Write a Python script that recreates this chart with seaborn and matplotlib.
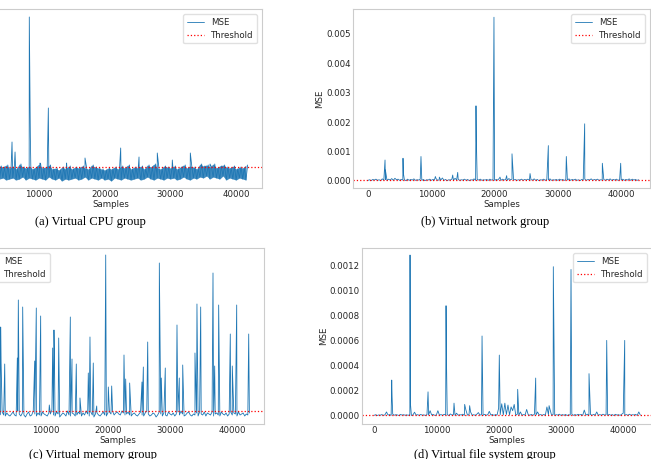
import numpy as np
import matplotlib
matplotlib.use("Agg")
import matplotlib.pyplot as plt
import seaborn as sns

# ---------------- data ----------------
# (a) Virtual CPU group : base samples every 250 samples, units of 1e-4
cpu_step = 250
cpu_unit = 1e-4
cpu_base = [9, 20, 8, 21, 10, 19, 8, 22, 9, 18, 7, 21, 11, 20, 8, 19, 9, 22, 10, 21,
            8, 23, 9, 20, 10, 22, 8, 19, 9, 24, 11, 21, 8, 20, 10, 22, 9, 19, 8, 21,
            10, 24, 9, 20, 8, 21, 11, 23, 9, 19, 8, 20, 10, 18, 7, 21, 9, 19, 8, 22,
            9, 19, 10, 21, 8, 20, 9, 22, 11, 20, 8, 19, 10, 23, 9, 21, 8, 20, 10, 19,
            8, 18, 9, 20, 7, 19, 10, 21, 9, 19, 8, 22, 10, 20, 9, 23, 8, 19, 9, 21,
            10, 20, 8, 22, 9, 19, 11, 23, 9, 21, 8, 24, 10, 20, 9, 19, 8, 22, 10, 21,
            9, 20, 10, 22, 8, 19, 9, 21, 11, 23, 9, 20, 8, 22, 10, 21, 9, 19, 11, 24,
            10, 22, 12, 23, 9, 21, 11, 24, 10, 20, 9, 22, 12, 23, 8, 21, 10, 20, 9, 22,
            8, 19, 10, 21, 9, 20, 8, 23]
cpu_spike_pos = [5890, 6350, 8520, 8680, 10150, 11420, 14200, 17000, 22430,
                 25220, 28000, 30290, 33030, 36030]
cpu_spike_val = [46, 36, 171, 51, 25, 80, 25, 30, 40, 31, 35, 28, 35, 24]
cpu_threshold = 0.00207

# (b) Virtual network group : base every 250 samples, units of 1e-5
net_step = 250
net_unit = 1e-5
net_base = [2, 4, 1, 5, 3, 6, 2, 4, 1, 7, 3, 5, 2, 6, 3, 8, 2, 9, 4, 6,
            2, 5, 3, 4, 1, 6, 2, 5, 3, 7, 2, 4, 3, 6, 2, 5, 1, 4, 3, 6,
            2, 5, 3, 8, 2, 4, 3, 10, 2, 5, 1, 4, 3, 6, 2, 9, 3, 5, 2, 4,
            3, 6, 2, 5, 1, 4, 3, 7, 2, 5, 3, 6, 2, 4, 3, 5, 2, 6, 3, 4,
            2, 5, 3, 9, 2, 6, 3, 5, 2, 8, 4, 6, 3, 5, 2, 4, 3, 6, 2, 5,
            3, 6, 2, 4, 3, 7, 2, 5, 1, 4, 3, 6, 2, 5, 3, 7, 2, 4, 3, 5,
            2, 6, 3, 5, 2, 4, 3, 7, 2, 5, 3, 6, 2, 4, 1, 5, 3, 6, 2, 5,
            3, 7, 2, 5, 3, 6, 2, 4, 3, 5, 2, 6, 3, 7, 2, 5, 3, 6, 2, 4,
            3, 6, 2, 5, 3, 7, 2, 6, 3, 5, 2, 4]
net_spike_pos = [2690, 2750, 5530, 5590, 8370, 8430, 10640, 11270, 13380, 14170,
                 17060, 17120, 19900, 20850, 21900, 22750, 25600, 28490, 31330,
                 34230, 37020, 39920]
net_spike_val = [71, 37, 77, 26, 83, 43, 15, 13, 20, 29,
                 255, 137, 556, 13, 18, 92, 25, 120, 83,
                 194, 60, 60]
net_threshold = 0.00002

# (c) Virtual memory group : base every 250 samples, units of 1e-4
mem_step = 250
mem_unit = 1e-4
mem_base = [10, 8, 11, 9, 8, 12, 10, 7, 9, 11, 8, 10, 12, 9, 8, 11, 9, 8, 10, 12,
            9, 8, 13, 10, 8, 11, 9, 7, 10, 12, 8, 9, 13, 10, 8, 11, 9, 8, 12, 10,
            9, 8, 11, 10, 14, 9, 8, 12, 10, 7, 9, 11, 10, 8, 13, 9, 8, 11, 10, 8,
            9, 12, 10, 8, 11, 9, 13, 10, 8, 12, 9, 7, 10, 11, 9, 8, 10, 12, 9, 8,
            11, 12, 10, 13, 9, 11, 12, 10, 9, 13, 11, 9, 10, 12, 9, 8, 10, 11, 9, 8,
            10, 12, 9, 8, 11, 13, 10, 8, 9, 11, 10, 7, 9, 12, 10, 8, 11, 9, 8, 12,
            10, 9, 11, 8, 10, 12, 9, 13, 10, 8, 9, 11, 12, 9, 8, 10, 9, 11, 8, 12,
            10, 9, 12, 8, 11, 10, 9, 12, 8, 10, 11, 9, 8, 12, 10, 9, 11, 8, 10, 12,
            9, 11, 10, 8, 12, 9, 10, 11, 8, 10, 9, 11]
mem_spike_pos = [2760, 2820, 3410, 5440, 5600, 6300, 8230, 8490, 9190, 10580,
                 11120, 11330, 11400, 12090, 13960, 14230, 14920, 15510, 16850,
                 17120, 17650, 18200, 19650, 20070, 20610, 22590, 22860, 23500,
                 25480, 25700, 26400, 28270, 28590, 29230, 31110, 31480, 32030,
                 34000, 34320, 34920, 36900, 37170, 37810, 39680, 40000, 40710,
                 42640]
mem_spike_val = [97, 62, 60, 66, 124, 117, 63, 116, 108, 19,
                 76, 94, 70, 86, 107, 65, 60, 26, 51,
                 87, 61, 18, 169, 37, 38, 69, 45, 41,
                 42, 57, 82, 161, 46, 56, 99, 46, 59,
                 71, 120, 117, 151, 58, 119, 90, 58, 119,
                 90]
mem_threshold = 0.00133

# (d) Virtual file system group : base every 250 samples, units of 1e-6
fs_step = 250
fs_unit = 1e-6
fs_base = [3, 8, 2, 6, 4, 9, 3, 7, 30, 5, 9, 3, 12, 4, 8, 6, 2, 10, 5, 8,
           4, 7, 3, 9, 2, 6, 28, 5, 8, 3, 10, 4, 7, 2, 9, 5, 40, 6, 10, 3,
           5, 40, 4, 9, 3, 11, 6, 8, 2, 14, 5, 9, 3, 20, 4, 8, 6, 12, 3, 45,
           5, 9, 30, 4, 8, 3, 12, 25, 5, 9, 3, 11, 4, 8, 35, 6, 10, 3, 9, 5,
           60, 8, 95, 6, 100, 10, 85, 7, 70, 40, 90, 5, 12, 3, 30, 4, 9, 6, 50, 8,
           4, 10, 3, 12, 5, 30, 6, 9, 3, 10, 4, 70, 8, 50, 4, 10, 3, 8, 5, 12,
           3, 9, 4, 10, 2, 8, 5, 12, 3, 9, 4, 11, 6, 10, 3, 45, 5, 12, 3, 9,
           4, 10, 5, 30, 3, 9, 4, 12, 5, 8, 3, 10, 4, 9, 2, 11, 5, 8, 3, 12,
           20, 5, 9, 3, 12, 4, 8, 6, 10, 3, 30, 5]
fs_spike_pos = [2840, 2900, 5780, 5840, 8670, 8730, 11560, 11620, 12840, 14550,
                15350, 17340, 20110, 23060, 25950, 28100, 28780, 31620, 34510,
                37350, 40240]
fs_spike_val = [284, 150, 1280, 100, 190, 80, 876, 475, 100, 90,
                80, 635, 483, 210, 300, 80, 1187, 1165, 335,
                600, 600]
fs_threshold = 0.000005

captions = ["(a) Virtual CPU group", "(b) Virtual network group",
            "(c) Virtual memory group", "(d) Virtual file system group"]
legend_locs = ["upper right", "upper right", "upper left", "upper right"]

# ---------------- figure ----------------
sns.set_style("white", {"axes.edgecolor": "0.8", "text.color": "0.15",
                        "xtick.color": "0.15", "ytick.color": "0.15"})
plt.rcParams["font.family"] = ["DejaVu Sans"]

W, H = 651, 459
fig = plt.figure(figsize=(W / 100, H / 100), dpi=100)
BLUE = "#1f77b4"


def rect(l, t, r, b):
    return [l / W, 1 - b / H, (r - l) / W, (b - t) / H]


def series(step, base, pos, val, unit):
    x = np.concatenate([np.arange(len(base)) * step, np.array(pos)])
    y = np.concatenate([np.array(base, float), np.array(val, float)]) * unit
    order = np.argsort(x, kind="stable")
    return x[order], y[order]


panels = [
    dict(rect=rect(-41, 9, 262, 188), xlim=(-2180, 43940), ylim=(0, 0.0179),
         data=series(cpu_step, cpu_base, cpu_spike_pos, cpu_spike_val, cpu_unit),
         thr=cpu_threshold, cap=(90, 222)),
    dict(rect=rect(353, 9, 650, 188), xlim=(-2370, 44550), ylim=(-0.00024, 0.00584),
         data=series(net_step, net_base, net_spike_pos, net_spike_val, net_unit),
         thr=net_threshold, cap=(485, 222)),
    dict(rect=rect(-29, 248, 264, 424), xlim=(-2010, 45100), ylim=(0, 0.0176),
         data=series(mem_step, mem_base, mem_spike_pos, mem_spike_val, mem_unit),
         thr=mem_threshold, cap=(93, 455)),
    dict(rect=rect(362, 248, 652, 424), xlim=(-1930, 44620), ylim=(-0.000066, 0.001336),
         data=series(fs_step, fs_base, fs_spike_pos, fs_spike_val, fs_unit),
         thr=fs_threshold, cap=(485, 455)),
]

FS = 6.2
for i, p in enumerate(panels):
    ax = fig.add_axes(p["rect"])
    x, y = p["data"]
    if i == 0:
        # dense CPU band: envelope between the read low / high values
        lo = np.array(cpu_base[0::2], float) * cpu_unit
        hi = np.array(cpu_base[1::2], float) * cpu_unit
        xb = np.arange(len(lo)) * (2 * cpu_step)
        ax.fill_between(xb, lo, hi, color=BLUE, alpha=0.85, linewidth=0)
    sns.lineplot(x=x, y=y, ax=ax, color=BLUE, linewidth=0.6,
                 label="MSE", sort=False, estimator=None)
    ax.axhline(p["thr"], color="red", linestyle=":", linewidth=0.9, label="Threshold")
    ax.set_xlim(*p["xlim"])
    ax.set_ylim(*p["ylim"])
    ax.set_xticks([0, 10000, 20000, 30000, 40000])
    ax.set_xlabel("Samples", fontsize=FS, labelpad=0.5)
    ax.set_ylabel("MSE", fontsize=FS, labelpad=1.5)
    ax.tick_params(labelsize=FS, length=0, pad=1.5)
    for s in ax.spines.values():
        s.set_linewidth(0.8)
        s.set_color("0.8")
    ax.legend(loc=legend_locs[i], fontsize=FS, frameon=True, edgecolor="0.85",
              borderaxespad=0.6)
    cx, cy = p["cap"]
    fig.text(cx / W, 1 - cy / H, captions[i], ha="center", va="center",
             family="Liberation Serif", fontsize=9, color="black")

fig.savefig("out.png", dpi=100)
